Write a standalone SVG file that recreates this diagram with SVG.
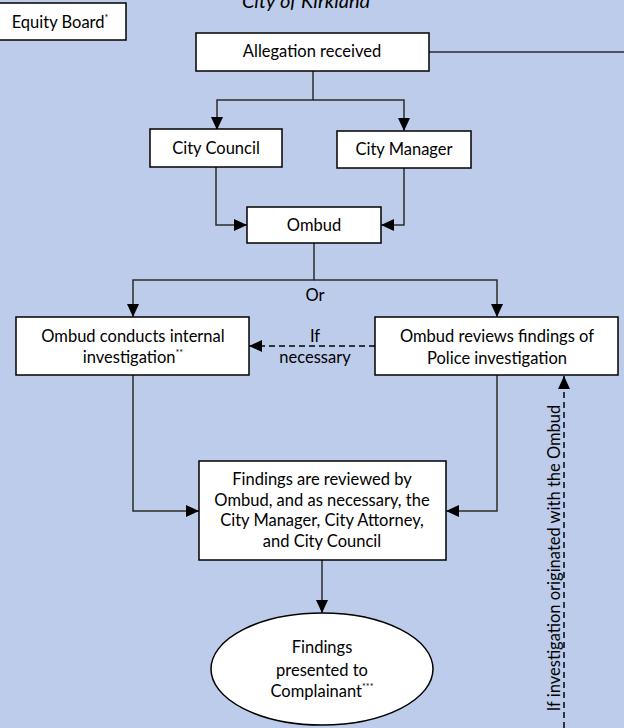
<svg xmlns="http://www.w3.org/2000/svg" width="624" height="728" viewBox="0 0 624 728">
<style>
.bg{fill:#BCCCEA}
.box{fill:#fff;stroke:#000;stroke-width:1.5}
.t{font-family:Lato,"Liberation Sans",sans-serif;font-size:16.5px;fill:#000;text-anchor:middle}
.ti{font-family:Lato,"Liberation Sans",sans-serif;font-size:20px;font-style:italic;fill:#000;text-anchor:middle}
.sup{font-size:9px}
.c{fill:none;stroke:#2b2b2b;stroke-width:1.5}
.d{fill:none;stroke:#000;stroke-width:1.5;stroke-dasharray:6 4}
</style>
<defs>
<marker id="ah" markerUnits="userSpaceOnUse" markerWidth="14" markerHeight="12" viewBox="0 0 14 12" refX="13" refY="6" orient="auto">
<path d="M0,0 L13,6 L0,12 z" fill="#000"/>
</marker>
</defs>
<rect class="bg" x="0" y="0" width="624" height="728"/>
<text class="ti" x="306" y="8">City of Kirkland</text>

<g id="connectors">
<path class="c" d="M429,52 H624"/>
<path class="c" d="M313,71 V100 H217 V130" marker-end="url(#ah)"/>
<path class="c" d="M313,100 H404 V131" marker-end="url(#ah)"/>
<path class="c" d="M216,167 V225 H247" marker-end="url(#ah)"/>
<path class="c" d="M404,168 V225 H381" marker-end="url(#ah)"/>
<path class="c" d="M314,243 V280 H133 V317" marker-end="url(#ah)"/>
<path class="c" d="M314,280 H497 V317" marker-end="url(#ah)"/>
<path class="d" d="M375,346 H249" marker-end="url(#ah)"/>
<path class="c" d="M133,375 V511 H199" marker-end="url(#ah)"/>
<path class="c" d="M497,375 V511 H446" marker-end="url(#ah)"/>
<path class="c" d="M322,560 V613" marker-end="url(#ah)"/>
<path class="d" d="M564,728 V376" marker-end="url(#ah)"/>
<text class="t" x="315" y="301">Or</text>
<text class="t" x="315" y="342">If</text>
<text class="t" x="315" y="363">necessary</text>
<text class="t" transform="translate(560,558) rotate(-90)">If investigation originated with the Ombud</text>
</g>

<g id="equity-board">
<rect class="box" x="-1" y="3" width="127" height="37"/>
<text class="t" x="60" y="28">Equity Board<tspan class="sup" dy="-7">*</tspan></text>
</g>
<g id="allegation">
<rect class="box" x="196" y="33" width="233" height="38"/>
<text class="t" x="312" y="57">Allegation received</text>
</g>
<g id="city-council">
<rect class="box" x="150" y="129" width="132" height="38"/>
<text class="t" x="216" y="154">City Council</text>
</g>
<g id="city-manager">
<rect class="box" x="337" y="131" width="134" height="37"/>
<text class="t" x="404" y="155">City Manager</text>
</g>
<g id="ombud">
<rect class="box" x="247" y="207" width="134" height="36"/>
<text class="t" x="314" y="231">Ombud</text>
</g>
<g id="internal-investigation">
<rect class="box" x="16" y="317" width="233" height="58"/>
<text class="t" x="133" y="342">Ombud conducts internal</text>
<text class="t" x="133" y="363">investigation<tspan class="sup" dy="-7">**</tspan></text>
</g>
<g id="police-review">
<rect class="box" x="375" y="317" width="243" height="58"/>
<text class="t" x="497" y="342">Ombud reviews findings of</text>
<text class="t" x="497" y="364">Police investigation</text>
</g>
<g id="findings-review">
<rect class="box" x="199" y="461" width="247" height="99"/>
<text class="t" x="322" y="485">Findings are reviewed by</text>
<text class="t" x="322" y="506">Ombud, and as necessary, the</text>
<text class="t" x="322" y="526">City Manager, City Attorney,</text>
<text class="t" x="322" y="547">and City Council</text>
</g>
<g id="findings-presented">
<ellipse class="box" cx="322" cy="669" rx="111" ry="56"/>
<text class="t" x="322" y="653">Findings</text>
<text class="t" x="322" y="676">presented to</text>
<text class="t" x="322" y="697">Complainant<tspan class="sup" dy="-7">***</tspan></text>
</g>
</svg>
